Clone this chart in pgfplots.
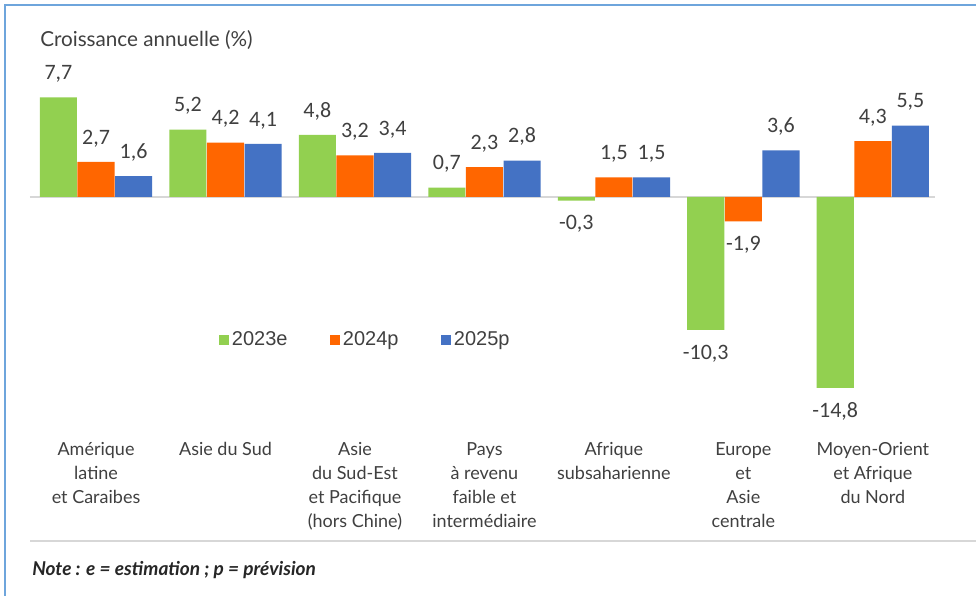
\documentclass[border=0pt]{standalone}
\usepackage{pgfplots}
\pgfplotsset{compat=1.18}
\usepackage{fontspec}
\setmainfont{Lato}
\newfontfamily\numfont{Carlito}
\newfontfamily\legfont{Liberation Sans}
\definecolor{cgreen}{RGB}{146,208,80}
\definecolor{corange}{RGB}{255,102,0}
\definecolor{cblue}{RGB}{68,114,196}
\definecolor{cborder}{RGB}{110,165,220}
\definecolor{ctext}{RGB}{64,64,64}
\definecolor{cline}{RGB}{215,215,215}
\begin{document}
\begin{tikzpicture}[x=0.75pt,y=0.75pt]
\useasboundingbox (0,0) rectangle (976,596);
\fill[white] (0,0) rectangle (976,596);
\draw[cborder, line width=1.5pt] (5,0) -- (5,591) -- (976,591);
\draw[cline, line width=1pt] (30,55) -- (976,55);
\node[anchor=base west, inner sep=0pt, font=\fontsize{15.5}{18}\selectfont, text=ctext] at (40,549) {Croissance annuelle (\%)};
\node[anchor=base west, inner sep=0pt, font=\bfseries\itshape\fontsize{14.3}{16}\selectfont, text=black!85] at (32,20) {Note : e = estimation ; p = prévision};
\begin{axis}[
  at={(22.5pt,149.25pt)}, anchor=south west,
  scale only axis, width=678.75pt, height=232.5pt,
  xmin=-0.51, xmax=6.48, ymin=-15.5, ymax=8.5,
  ybar, bar width=27.8pt,
  axis line style={draw=none}, ytick=\empty,
  xtick={0,...,6},
  xticklabels={{Amérique\\latine\\et Caraibes},{Asie du Sud},{Asie\\du Sud-Est\\et Pacifique\\(hors Chine)},{Pays\\à revenu\\faible et\\intermédiaire},{Afrique\\subsaharienne},{Europe\\et\\Asie\\centrale},{Moyen-Orient\\et Afrique\\du Nord}},
  major tick length=0pt,
  xticklabel style={align=center, anchor=north, inner sep=0pt, yshift=-34pt, font=\fontsize{13.5}{18}\selectfont, text=ctext},
  clip=false,
  nodes near coords, nodes near coords align={vertical},
  every node near coord/.append style={font=\numfont\fontsize{16.5}{16}\selectfont, text=ctext, inner xsep=0pt, inner ysep=11pt},
  /pgf/number format/.cd, fixed, fixed zerofill, precision=1, use comma, assume math mode=true,
  /pgfplots/.cd,
  legend columns=3,
  legend style={at={(0.371,0.184)}, anchor=center, draw=none, fill=none, font=\legfont\fontsize{15}{15}\selectfont, text=ctext, nodes={inner sep=2pt}, /tikz/every even column/.append style={column sep=30pt}},
]
\draw[cline, line width=1.5pt] (axis cs:-0.51,0) -- (axis cs:6.48,0);
\addplot[bar shift=-28.2pt, fill=cgreen, draw=none,
  legend image code/.code={\fill[cgreen] (0pt,-3.75pt) rectangle (7.5pt,3.75pt);}]
  coordinates {(0,7.7) (1,5.2) (2,4.8) (3,0.7) (4,-0.3) (5,-10.3) (6,-14.8)};
\addlegendentry{2023e}
\addplot[bar shift=0pt, fill=corange, draw=none,
  legend image code/.code={\fill[corange] (0pt,-3.75pt) rectangle (7.5pt,3.75pt);}]
  coordinates {(0,2.7) (1,4.2) (2,3.2) (3,2.3) (4,1.5) (5,-1.9) (6,4.3)};
\addlegendentry{2024p}
\addplot[bar shift=28.2pt, fill=cblue, draw=none,
  legend image code/.code={\fill[cblue] (0pt,-3.75pt) rectangle (7.5pt,3.75pt);}]
  coordinates {(0,1.6) (1,4.1) (2,3.4) (3,2.8) (4,1.5) (5,3.6) (6,5.5)};
\addlegendentry{2025p}
\end{axis}
\end{tikzpicture}
\end{document}
